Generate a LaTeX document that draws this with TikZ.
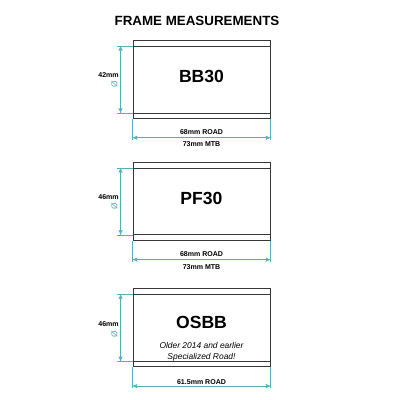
\documentclass[tikz,border=0pt]{standalone}
\usepackage{fontspec}
\setmainfont{Liberation Sans}
\usetikzlibrary{arrows,positioning}

\definecolor{dimteal}{RGB}{86,176,186}
\definecolor{framegrey}{RGB}{55,55,55}

\begin{document}
\begin{tikzpicture}[x=0.025cm,y=-0.025cm,>=stealth',
                    frame/.style={draw=framegrey,line width=0.6pt,minimum width=3.425cm,
                                  minimum height=1.95cm,inner sep=0pt},
                    cup/.style={draw=framegrey,line width=0.6pt},
                    dim/.style={draw=dimteal,line width=0.35pt},
                    dimarr/.style={dim,<->},
                    size/.style={font=\bfseries\fontsize{5}{6}\selectfont,inner sep=0pt},
                    dia/.style={text=dimteal,font=\fontsize{6}{6}\selectfont,rotate=90,inner sep=0pt},
                    bbname/.style={font=\bfseries\fontsize{12.5}{14}\selectfont},
                    note/.style={font=\itshape\fontsize{6}{7.8}\selectfont,align=center}]

  \fill[white] (0,0) rectangle (400,400);
  \node[font=\bfseries\fontsize{9.5}{11}\selectfont] (title) at (197,21) {FRAME MEASUREMENTS};

  % BB30
  \node[frame] (bb) at (201.5,79.5) {};
  \node[bbname] (bbtext) at ([yshift=0.075cm]bb.center) {BB30};
  \draw[cup] ([yshift=-0.15cm]bb.north west) -- ([yshift=-0.15cm]bb.north east)
             ([yshift=0.15cm]bb.south west) -- ([yshift=0.15cm]bb.south east);
  \coordinate (bbtop) at ([xshift=-0.4cm,yshift=-0.15cm]bb.north west);
  \coordinate (bbbot) at ([xshift=-0.4cm,yshift=0.15cm]bb.south west);
  \coordinate (bbl) at ([yshift=-0.52cm]bb.south west);
  \coordinate (bbr) at ([yshift=-0.52cm]bb.south east);
  \draw[dim] (bbtop) -- ([yshift=-0.15cm]bb.north west)
             (bbbot) -- ([yshift=0.15cm]bb.south west)
             (bb.south west) -- (bbl) (bb.south east) -- (bbr);
  \draw[dimarr] ([xshift=0.1cm]bbtop) -- ([xshift=0.1cm]bbbot);
  \draw[dimarr] ([yshift=0.05cm]bbl) -- ([yshift=0.05cm]bbr);
  \node[size,anchor=east] (bbh) at ([xshift=-0.34cm,yshift=0.11cm]bb.west) {42mm};
  \node[dia] (bbd) at ([xshift=-0.45cm,yshift=-0.12cm]bb.west) {Ø};
  \node[size] (bbroad) at ([yshift=-0.34cm]bb.south) {68mm ROAD};
  \node[size] (bbmtb) at ([yshift=-0.64cm]bb.south) {73mm MTB};

  % PF30
  \node[frame] (pf) [below=1.075cm of bb] {};
  \node[bbname] (pftext) at ([yshift=0.07cm]pf.center) {PF30};
  \draw[cup] ([yshift=-0.15cm]pf.north west) -- ([yshift=-0.15cm]pf.north east)
             ([yshift=0.15cm]pf.south west) -- ([yshift=0.15cm]pf.south east);
  \coordinate (pftop) at ([xshift=-0.4cm,yshift=-0.15cm]pf.north west);
  \coordinate (pfbot) at ([xshift=-0.4cm,yshift=0.15cm]pf.south west);
  \coordinate (pfl) at ([yshift=-0.52cm]pf.south west);
  \coordinate (pfr) at ([yshift=-0.52cm]pf.south east);
  \draw[dim] (pftop) -- ([yshift=-0.15cm]pf.north west)
             (pfbot) -- ([yshift=0.15cm]pf.south west)
             (pf.south west) -- (pfl) (pf.south east) -- (pfr);
  \draw[dimarr] ([xshift=0.1cm]pftop) -- ([xshift=0.1cm]pfbot);
  \draw[dimarr] ([yshift=0.05cm]pfl) -- ([yshift=0.05cm]pfr);
  \node[size,anchor=east] (pfh) at ([xshift=-0.34cm,yshift=0.11cm]pf.west) {46mm};
  \node[dia] (pfd) at ([xshift=-0.45cm,yshift=-0.13cm]pf.west) {Ø};
  \node[size] (pfroad) at ([yshift=-0.34cm]pf.south) {68mm ROAD};
  \node[size] (pfmtb) at ([yshift=-0.66cm]pf.south) {73mm MTB};

  % OSBB
  \node[frame] (os) [below=1.19cm of pf] {};
  \node[bbname] (ostext) at ([yshift=0.125cm]os.center) {OSBB};
  \node[note] (osnote) at ([yshift=-0.59cm]os.center) {Older 2014 and earlier\\Specialized Road!};
  \draw[cup] ([yshift=-0.15cm]os.north west) -- ([yshift=-0.15cm]os.north east)
             ([yshift=0.15cm]os.south west) -- ([yshift=0.15cm]os.south east);
  \coordinate (ostop) at ([xshift=-0.4cm,yshift=-0.15cm]os.north west);
  \coordinate (osbot) at ([xshift=-0.4cm,yshift=0.15cm]os.south west);
  \coordinate (osl) at ([yshift=-0.52cm]os.south west);
  \coordinate (osr) at ([yshift=-0.52cm]os.south east);
  \draw[dim] (ostop) -- ([yshift=-0.15cm]os.north west)
             (osbot) -- ([yshift=0.15cm]os.south west)
             (os.south west) -- (osl) (os.south east) -- (osr);
  \draw[dimarr] ([xshift=0.1cm]ostop) -- ([xshift=0.1cm]osbot);
  \draw[dimarr] ([yshift=0.05cm]osl) -- ([yshift=0.05cm]osr);
  \node[size,anchor=east] (osh) at ([xshift=-0.34cm,yshift=0.1cm]os.west) {46mm};
  \node[dia] (osd) at ([xshift=-0.45cm,yshift=-0.15cm]os.west) {Ø};
  \node[size] (osroad) at ([yshift=-0.36cm]os.south) {61.5mm ROAD};
\end{tikzpicture}
\end{document}
